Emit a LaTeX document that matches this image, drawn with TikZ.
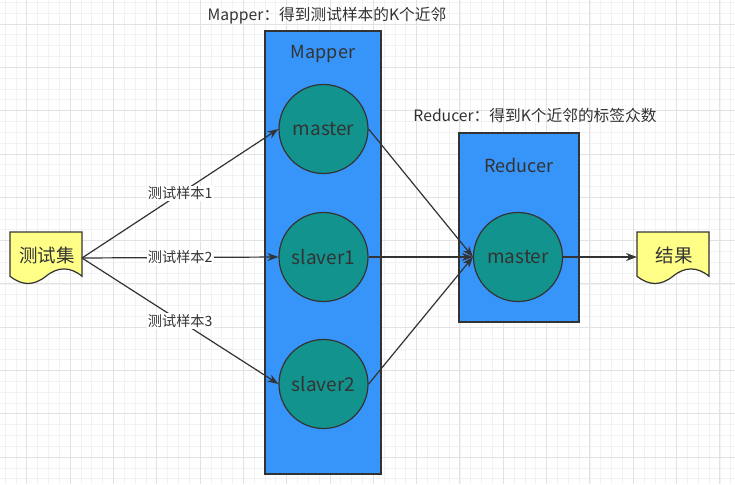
\documentclass[tikz,border=0pt]{standalone}
\usepackage{fontspec}
\setmainfont{Noto Sans CJK SC}
\usetikzlibrary{arrows.meta}
\definecolor{gridminor}{HTML}{F2F2F2}
\definecolor{gridmajor}{HTML}{E2E2E2}
\definecolor{boxblue}{HTML}{3794F9}
\definecolor{circteal}{HTML}{13938D}
\definecolor{docyellow}{HTML}{FFFF88}
\definecolor{ink}{HTML}{333333}
\tikzset{
  container/.style={draw=ink, line width=1.2pt, fill=boxblue},
  worker/.style={circle, draw=ink, line width=1.2pt, fill=circteal, minimum size=89pt, inner sep=0pt, text=ink, font=\fontsize{19}{21}\selectfont},
  titletext/.style={text=ink, font=\fontsize{18}{20}\selectfont},
  caption/.style={text=ink, font=\fontsize{15.7}{18}\selectfont},
  doctext/.style={text=ink, font=\fontsize{18.5}{20}\selectfont},
  docshape/.style={draw=ink, line width=1.2pt, fill=docyellow},
  flow/.style={draw=ink, line width=1.2pt, -{Stealth[length=11pt,width=8pt]}},
  flowlabel/.style={fill=white, inner sep=1pt, text=ink, font=\fontsize{14.2}{16}\selectfont},
}
\begin{document}
\begin{tikzpicture}[x=1pt,y=-1pt]
\useasboundingbox (0,0) rectangle (735,484);
\fill[white] (0,0) rectangle (735,484);
% grid
\foreach \k in {-3,...,68} {
  \draw[gridminor, line width=0.8pt] ({26.8+10.83*\k},0) -- ({26.8+10.83*\k},484);
}
\foreach \k in {-3,...,45} {
  \draw[gridminor, line width=0.8pt] (0,{24+10.83*\k}) -- (735,{24+10.83*\k});
}
\foreach \k in {0,...,16} {
  \draw[gridmajor, line width=0.8pt] ({26.8+43.3*\k},0) -- ({26.8+43.3*\k},484);
}
\foreach \k in {0,...,11} {
  \draw[gridmajor, line width=0.8pt] (0,{24+43.3*\k}) -- (735,{24+43.3*\k});
}
% containers
\draw[container] (265,31) rectangle (381,474);
\draw[container] (459,133) rectangle (579,322);
\node[titletext] (maptitle) at (323,54) {Mapper};
\node[titletext] (redtitle) at (519,165) {Reducer};
\node[caption] (mapcap) at (327,16) {Mapper：得到测试样本的K个近邻};
\node[caption] (redcap) at (535,116) {Reducer：得到K个近邻的标签众数};
% workers
\node[worker] (m1) at (323.5,129) {master};
\node[worker] (s1) at (323.5,257) {slaver1};
\node[worker] (s2) at (323.5,384) {slaver2};
\node[worker] (rm) at (518,257) {master};
% documents
\draw[docshape] (10,232) -- (82,232) -- (82,276.2)
  .. controls (70,266.5) and (58,266.5) .. (46,276.2)
  .. controls (34,285.9) and (22,285.9) .. (10,276.2) -- cycle;
\node[doctext] (test) at (47,255) {测试集};
\draw[docshape] (637,232) -- (709,232) -- (709,276.2)
  .. controls (697,266.5) and (685,266.5) .. (673,276.2)
  .. controls (661,285.9) and (649,285.9) .. (637,276.2) -- cycle;
\node[doctext] (result) at (674,255) {结果};
\coordinate (testout) at (82,258);
\coordinate (resin) at (637,257);
% edges
\draw[flow] (testout) -- (m1.west) node[flowlabel, midway] {测试样本1};
\draw[flow] (testout) -- (s1.west) node[flowlabel, midway] {测试样本2};
\draw[flow] (testout) -- (s2.west) node[flowlabel, midway] {测试样本3};
\draw[flow] (m1.east) -- (rm.west);
\draw[flow] (s1.east) -- (rm.west);
\draw[flow] (s2.east) -- (rm.west);
\draw[flow] (rm.east) -- (resin);
\end{tikzpicture}
\end{document}
